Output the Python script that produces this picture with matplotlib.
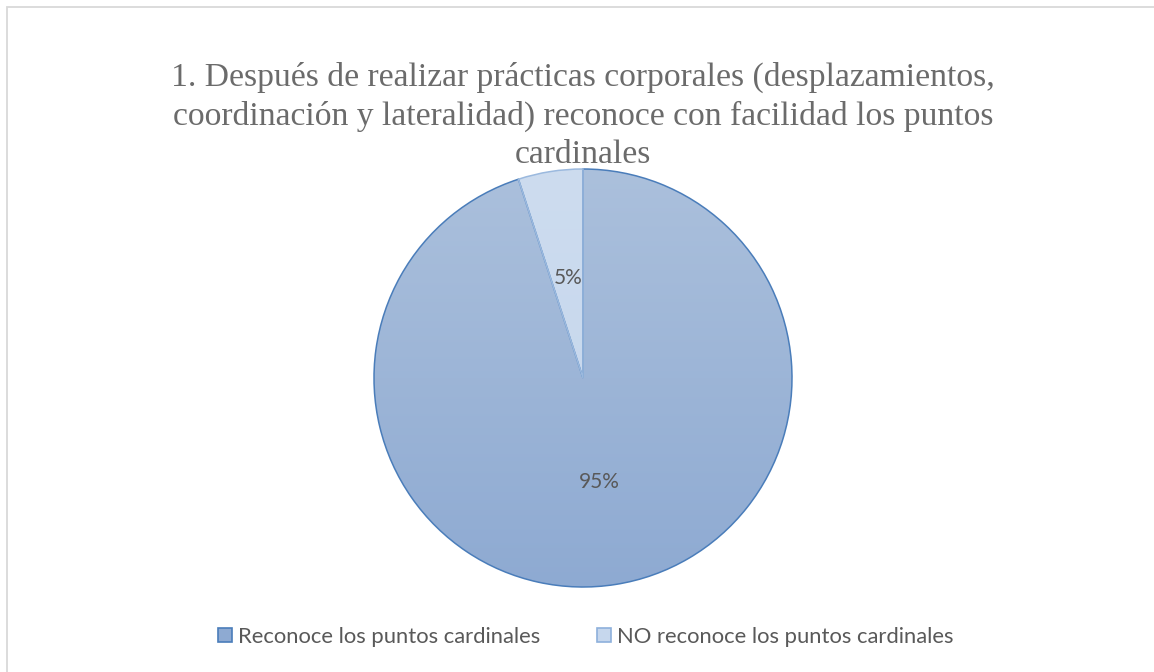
import numpy as np
import matplotlib
matplotlib.use('Agg')
import matplotlib.pyplot as plt
from matplotlib.patches import Patch, Rectangle
from matplotlib.colors import LinearSegmentedColormap

# Data
labels = ['Reconoce los puntos cardinales', 'NO reconoce los puntos cardinales']
values = [95, 5]
pct_text = ['95%', '5%']
title = ("1. Después de realizar prácticas corporales (desplazamientos,\n"
         "coordinación y lateralidad) reconoce con facilidad los puntos\n"
         "cardinales")

# Styles
grad_top = ['#abc0dc', '#cddcef']
grad_bottom = ['#8eaad2', '#c3d5ec']
edge_colors = ['#4a7dba', '#9bb9de']
legend_colors = ['#8eaad2', '#c6d7ed']
legend_edges = ['#4a7dba', '#8eb0dc']
text_color = '#595959'

W, H = 1154, 672
fig = plt.figure(figsize=(W / 100, H / 100), dpi=100)

# Outer chart border
fig.add_artist(Rectangle((6.5 / W, -0.05), 1.2, (H - 6.5) / H + 0.05,
                         transform=fig.transFigure, fill=False,
                         edgecolor='#d9d9d9', linewidth=1.3))

# Pie axes: center ~ (583, 378) px, radius ~ 209 px
cx, cy, r = 583, 378, 209
ax = fig.add_axes([(cx - r) / W, (H - cy - r) / H, 2 * r / W, 2 * r / H])
wedges, texts = ax.pie(values, startangle=90, counterclock=False,
                       radius=1, labels=None)
ax.set_xlim(-1, 1)
ax.set_ylim(-1, 1)
ax.set_aspect('equal')
ax.axis('off')

grad = np.linspace(0, 1, 256).reshape(-1, 1)
for i, w in enumerate(wedges):
    cmap = LinearSegmentedColormap.from_list('g%d' % i, [grad_top[i], grad_bottom[i]])
    im = ax.imshow(grad, extent=[-1, 1, -1, 1], cmap=cmap, aspect='auto',
                   origin='upper', zorder=1)
    im.set_clip_path(w)
    w.set_facecolor('none')
    w.set_edgecolor(edge_colors[i])
    w.set_linewidth(1.1)
    w.set_zorder(3)

# Percentage labels
label_pos = [(0.08, -0.50), (-0.07, 0.48)]
for (x, y), t in zip(label_pos, pct_text):
    ax.text(x, y, t, ha='center', va='center', fontsize=15,
            color=text_color, family='Lato', zorder=5)

# Title
fig.text(cx / W, 1 - 116 / H, title, ha='center', va='center',
         family='Liberation Serif', fontsize=24.2, color='#6b6b6b',
         linespacing=1.33)

# Legend
handles = [Patch(facecolor=c, edgecolor=e, linewidth=1.2)
           for c, e in zip(legend_colors, legend_edges)]
leg = fig.legend(handles, labels, loc='center', bbox_to_anchor=(586 / W, 1 - 637 / H),
                 ncol=2, frameon=False, handlelength=0.6, handleheight=0.6,
                 handletextpad=0.3, columnspacing=2.6,
                 prop={'family': 'Lato', 'size': 15.8})
for t in leg.get_texts():
    t.set_color(text_color)

fig.savefig('out.png', dpi=100, facecolor='white')
